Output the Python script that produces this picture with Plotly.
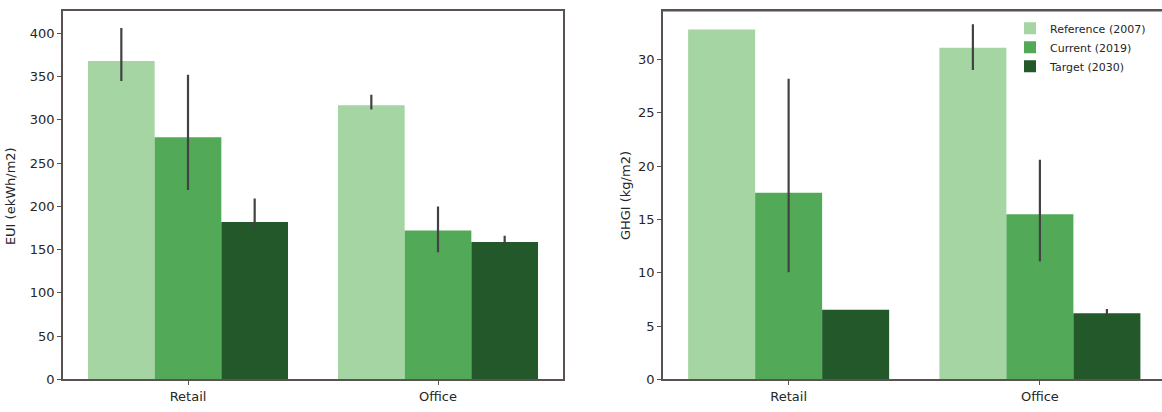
import plotly.graph_objects as go

categories = ["Retail", "Office"]
series_names = ["Reference (2007)", "Current (2019)", "Target (2030)"]
colors = ["#a6d5a4", "#52a957", "#23582b"]

# EUI (ekWh/m2): mean, CI low, CI high
eui_mean = {"Reference (2007)": [368, 317], "Current (2019)": [280, 172], "Target (2030)": [182, 159]}
eui_low = {"Reference (2007)": [345, 312], "Current (2019)": [219, 147], "Target (2030)": [176, 156]}
eui_high = {"Reference (2007)": [406, 329], "Current (2019)": [352, 200], "Target (2030)": [209, 166]}

# GHGI (kg/m2)
ghg_mean = {"Reference (2007)": [32.8, 31.1], "Current (2019)": [17.5, 15.5], "Target (2030)": [6.53, 6.22]}
ghg_low = {"Reference (2007)": [32.8, 29.0], "Current (2019)": [10.05, 11.06], "Target (2030)": [6.53, 5.9]}
ghg_high = {"Reference (2007)": [32.8, 33.3], "Current (2019)": [28.2, 20.6], "Target (2030)": [6.53, 6.6]}

fig = go.Figure()
err_color = "#424242"
for i, name in enumerate(series_names):
    m = eui_mean[name]
    fig.add_trace(go.Bar(
        x=categories, y=m, name=name, marker=dict(color=colors[i], line=dict(width=0)),
        error_y=dict(type="data", symmetric=False,
                     array=[h - v for h, v in zip(eui_high[name], m)],
                     arrayminus=[v - l for v, l in zip(m, eui_low[name])],
                     color=err_color, thickness=2.2, width=0),
        xaxis="x", yaxis="y", showlegend=False, offsetgroup=str(i)))
for i, name in enumerate(series_names):
    m = ghg_mean[name]
    fig.add_trace(go.Bar(
        x=categories, y=m, name=name, marker=dict(color=colors[i], line=dict(width=0)),
        error_y=dict(type="data", symmetric=False,
                     array=[h - v for h, v in zip(ghg_high[name], m)],
                     arrayminus=[v - l for v, l in zip(m, ghg_low[name])],
                     color=err_color, thickness=2.2, width=0),
        xaxis="x2", yaxis="y2", showlegend=True, offsetgroup=str(i)))

W, H = 1162, 412
font = dict(family="DejaVu Sans", size=13, color="#262626")
spine = "#5a5252"
ax_common = dict(showline=True, linecolor=spine, linewidth=1.6, showgrid=False, zeroline=False,
                 ticks="outside", ticklen=4, tickwidth=1.2, tickcolor=spine,
                 tickfont=font)

y0 = 1 - 387 / H
y1 = 1 - 11 / H
fig.update_layout(
    width=W, height=H, margin=dict(l=0, r=0, t=0, b=0),
    paper_bgcolor="white", plot_bgcolor="white",
    barmode="group", bargap=0.2, bargroupgap=0,
    font=font,
    xaxis=dict(domain=[63 / W, 563 / W], range=[-0.5, 1.5], anchor="y", mirror=True, **ax_common),
    yaxis=dict(domain=[y0, y1], range=[0, 426], anchor="x", mirror=True,
               tickvals=[0, 50, 100, 150, 200, 250, 300, 350, 400], **ax_common),
    xaxis2=dict(domain=[663 / W, 1.0], range=[-0.5, 1.486], anchor="y2", mirror=True, **ax_common),
    yaxis2=dict(domain=[y0, y1], range=[0, 34.56], anchor="x2", mirror=False,
                tickvals=[0, 5, 10, 15, 20, 25, 30], **ax_common),
    legend=dict(x=1010 / W, y=1 - 14 / H, xanchor="left", yanchor="top",
                bgcolor="rgba(255,255,255,0.8)", font=dict(family="DejaVu Sans", size=11, color="#262626"),
                itemwidth=30, tracegroupgap=0, borderwidth=0),
    annotations=[
        dict(text="EUI (ekWh/m2)", xref="paper", yref="paper", x=10 / W, y=1 - 200 / H,
             xanchor="center", yanchor="middle", textangle=-90, showarrow=False,
             font=dict(family="DejaVu Sans", size=13, color="#262626")),
        dict(text="GHGI (kg/m2)", xref="paper", yref="paper", x=625 / W, y=1 - 200 / H,
             xanchor="center", yanchor="middle", textangle=-90, showarrow=False,
             font=dict(family="DejaVu Sans", size=13, color="#262626")),
    ],
)
# top line for right panel (right spine is cut off in the reference)
fig.add_shape(type="line", xref="paper", yref="paper", x0=663 / W, x1=1.0, y0=y1, y1=y1,
              line=dict(color=spine, width=1.6))
fig.write_html("out.html", config={"displayModeBar": False},
               post_script="document.body.style.margin='0';document.body.style.overflow='hidden';")
